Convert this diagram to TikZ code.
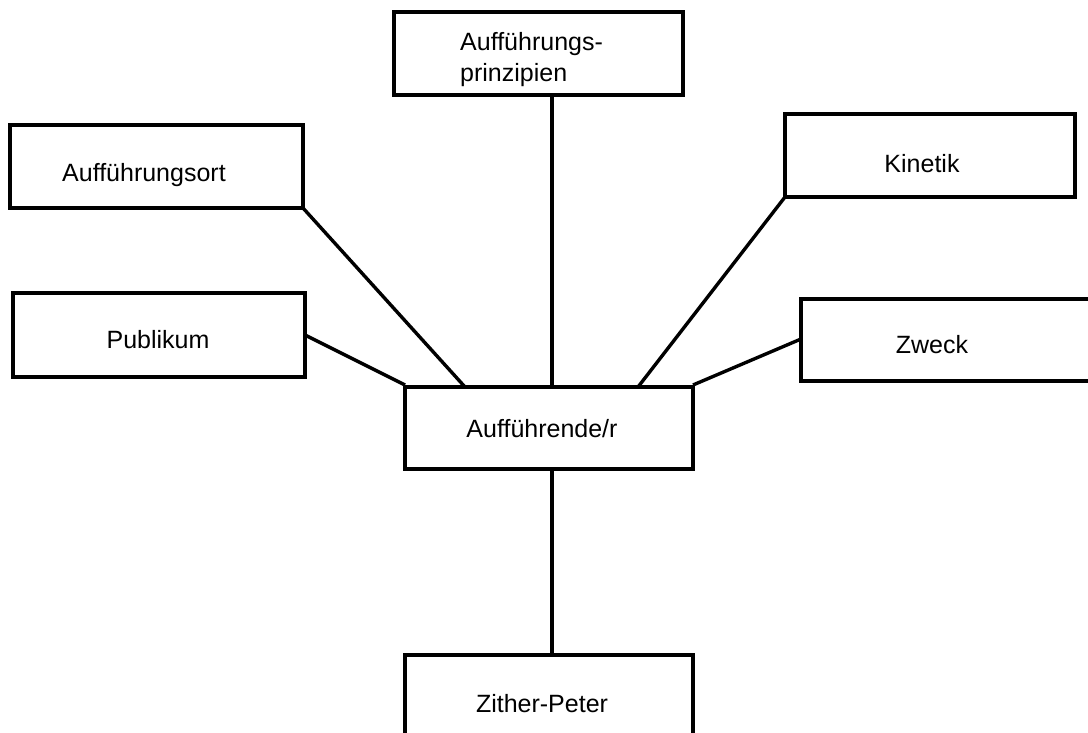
\documentclass[tikz,border=0pt]{standalone}
\usepackage{fontspec}
\setmainfont{Liberation Sans}
\usetikzlibrary{calc}
\begin{document}
\begin{tikzpicture}[x=1pt,y=-1pt,
  box/.style={draw=black,line width=3.2pt,fill=white,inner sep=0pt,outer sep=0pt,
    rectangle},
  lbl/.style={inner sep=0pt,font=\fontsize{25}{30}\selectfont},
  link/.style={draw=black,line width=3.4pt}]
\useasboundingbox (0,0) rectangle (1088,732);
\clip (0,0) rectangle (1088,732);

% boxes
\node[box,minimum width=289pt,minimum height=83pt] (prinz) at (538.5,53.5) {};
\node[box,minimum width=293pt,minimum height=83pt] (ort) at (156.5,166.5) {};
\node[box,minimum width=290pt,minimum height=83pt] (kin) at (930,155.5) {};
\node[box,minimum width=292pt,minimum height=84pt] (pub) at (159,335) {};
\node[box,minimum width=294pt,minimum height=82pt] (zweck) at (948,340) {};
\node[box,minimum width=288pt,minimum height=82pt] (perf) at (549,428) {};
\node[box,minimum width=288pt,minimum height=85pt] (zither) at (549,697.5) {};

% connectors to the central box
\draw[link] ($(prinz.south)+(13.5,0)$) -- ($(perf.north)+(3,0)$);
\draw[link] (ort.south east) -- ($(perf.north west)+(60,0)$);
\draw[link] (kin.south west) -- ($(perf.north west)+(233,0)$);
\draw[link] (pub.east) -- ($(perf.north west)+(0,-2)$);
\draw[link] ($(zweck.west)+(0,-1)$) -- ($(perf.north east)+(0,-2)$);
\draw[link] ($(perf.south)+(3,0)$) -- ($(zither.north)+(3,0)$);

% labels
\node[lbl,anchor=base west] (tprinz1) at (460,50) {Aufführungs-};
\node[lbl,anchor=base west] (tprinz2) at (460,81) {prinzipien};
\node[lbl,anchor=base west] (tort) at (62,181) {Aufführungsort};
\node[lbl,anchor=base] (tkin) at (922,172) {Kinetik};
\node[lbl,anchor=base] (tpub) at (158,348) {Publikum};
\node[lbl,anchor=base] (tzweck) at (932,353) {Zweck};
\node[lbl,anchor=base] (tperf) at (542,437) {Aufführende/r};
\node[lbl,anchor=base] (tzither) at (542,712) {Zither-Peter};
\end{tikzpicture}
\end{document}
